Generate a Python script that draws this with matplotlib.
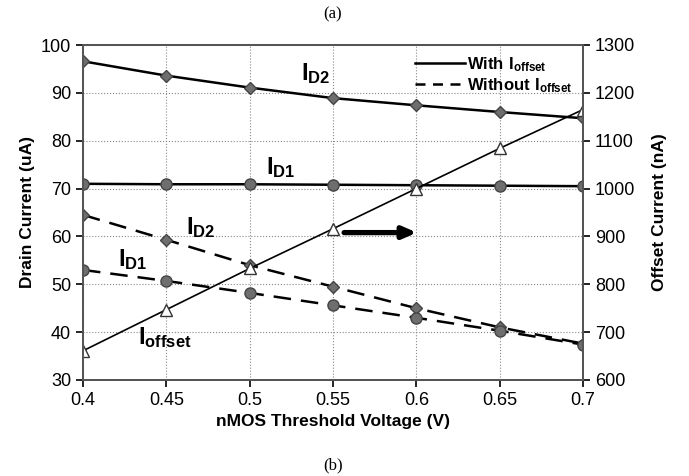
import matplotlib
matplotlib.use('Agg')
import matplotlib.pyplot as plt
from matplotlib.lines import Line2D

plt.rcParams['font.family'] = ['Liberation Sans', 'DejaVu Sans']
plt.rcParams['mathtext.fontset'] = 'custom'
plt.rcParams['mathtext.rm'] = 'Liberation Sans'
plt.rcParams['mathtext.bf'] = 'Liberation Sans:bold'

# datos
vth = [0.4, 0.45, 0.5, 0.55, 0.6, 0.65, 0.7]
id2_with = [96.6, 93.6, 91.1, 88.9, 87.4, 86.0, 84.7]
id1_with = [71.0, 70.9, 70.9, 70.8, 70.7, 70.6, 70.5]
id2_without = [64.5, 59.3, 54.0, 49.5, 45.0, 41.0, 37.6]
id1_without = [53.0, 50.7, 48.2, 45.6, 43.0, 40.3, 37.4]
i_offset = [661, 747, 833, 916, 1000, 1084, 1165]

fig = plt.figure(figsize=(6.89, 4.76), dpi=100)
ax = fig.add_axes([83/689, 1 - 380/476, 500/689, 335/476])
ax2 = ax.twinx()

mk = dict(markerfacecolor='#6e6e6e', markeredgecolor='#444444')
ax.plot(vth, id2_with, '-', color='black', lw=1.8, marker='D', markersize=6, **mk)
ax.plot(vth, id1_with, '-', color='black', lw=1.8, marker='o', markersize=8, **mk)
ax.plot(vth, id2_without, '--', color='black', lw=1.8, dashes=(7, 4), marker='D', markersize=6, **mk)
ax.plot(vth, id1_without, '--', color='black', lw=1.8, dashes=(7, 4), marker='o', markersize=8, **mk)
ax2.plot(vth, i_offset, '-', color='black', lw=1.2, marker='^', markerfacecolor='white',
         markeredgecolor='#333333', markersize=9)

ax.set_xlim(0.4, 0.7)
ax.set_ylim(30, 100)
ax2.set_ylim(600, 1300)
ax.set_xticks(vth)
ax.set_xticklabels(['0.4', '0.45', '0.5', '0.55', '0.6', '0.65', '0.7'])
ax.set_yticks(range(30, 101, 10))
ax2.set_yticks(range(600, 1301, 100))
ax.grid(True, linestyle=':', color='#888888', lw=0.8)
ax.tick_params(labelsize=13, direction='out', length=5, width=1.2)
ax2.tick_params(labelsize=13, direction='out', length=5, width=1.2)
for a in (ax, ax2):
    for s in a.spines.values():
        s.set_color('#555555')
        s.set_linewidth(1.4)
ax.set_axisbelow(True)

ax.set_xlabel('nMOS Threshold Voltage (V)', fontsize=12.5, fontweight='bold')
ax.set_ylabel('Drain Current (uA)', fontsize=12.5, fontweight='bold')
ax2.set_ylabel('Offset Current (nA)', fontsize=12.5, fontweight='bold', labelpad=12)

ax.text(0.531, 92.6, r'$\mathbf{I_{D2}}$', fontsize=17)
ax.text(0.51, 73.0, r'$\mathbf{I_{D1}}$', fontsize=17)
ax.text(0.462, 60.5, r'$\mathbf{I_{D2}}$', fontsize=17)
ax.text(0.421, 53.8, r'$\mathbf{I_{D1}}$', fontsize=17)
ax.text(0.433, 37.6, r'$\mathbf{I_{offset}}$', fontsize=17)

ax.annotate('', xy=(0.602, 60.8), xytext=(0.555, 60.8),
            arrowprops=dict(arrowstyle='-|>,head_length=0.8,head_width=0.35', lw=3.8, color='black'))

handles = [Line2D([], [], color='black', lw=1.8),
           Line2D([], [], color='black', lw=1.8, linestyle='--', dashes=(4, 3))]
ax.legend(handles, [r'$\mathbf{With\ I_{offset}}$', r'$\mathbf{Without\ I_{offset}}$'],
          loc='upper right', frameon=False, fontsize=12, handlelength=3.0,
          handletextpad=0.15, borderaxespad=0.2, labelspacing=0.15)

fig.text((83 + 583) / 2 / 689, 1 - 14/476, '(a)', ha='center', va='center',
         fontsize=12, family='Liberation Serif')
fig.text((83 + 583) / 2 / 689, 1 - 465/476, '(b)', ha='center', va='center',
         fontsize=12, family='Liberation Serif')

fig.savefig('out.png', dpi=100)
